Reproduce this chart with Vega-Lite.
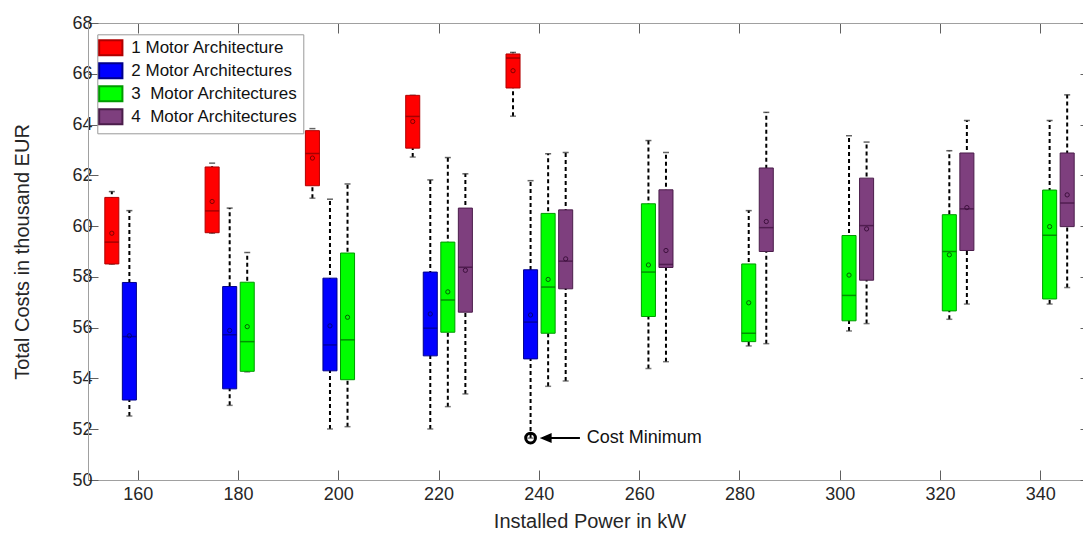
{
  "$schema": "https://vega.github.io/schema/vega-lite/v6.json",
  "width": 995,
  "height": 457,
  "autosize": {"type": "none"},
  "padding": {"left": 88, "top": 23, "right": 0, "bottom": 54},
  "background": "white",
  "config": {
    "view": {"stroke": null},
    "font": "Liberation Sans",
    "axis": {"labelFont": "Liberation Sans", "titleFont": "Liberation Sans", "titleFontWeight": "normal", "labelColor": "#262626", "titleColor": "#262626", "domainColor": "#a0a0a0", "tickColor": "#606060", "grid": false}
  },
  "datasets": {
    "boxes": [
      {"power": 160, "arch": "1 Motor Architecture", "lo": 58.5, "q1": 58.51, "med": 59.37, "q3": 61.13, "hi": 61.36, "mean": 59.72},
      {"power": 160, "arch": "2 Motor Architectures", "lo": 52.52, "q1": 53.15, "med": 55.65, "q3": 57.78, "hi": 60.61, "mean": 55.68},
      {"power": 180, "arch": "1 Motor Architecture", "lo": 59.72, "q1": 59.74, "med": 60.6, "q3": 62.33, "hi": 62.48, "mean": 60.97},
      {"power": 180, "arch": "2 Motor Architectures", "lo": 52.94, "q1": 53.59, "med": 55.72, "q3": 57.62, "hi": 60.71, "mean": 55.89},
      {"power": 180, "arch": "3\u00a0 Motor Architectures", "lo": 54.26, "q1": 54.28, "med": 55.45, "q3": 57.79, "hi": 58.96, "mean": 56.04},
      {"power": 200, "arch": "1 Motor Architecture", "lo": 61.1, "q1": 61.59, "med": 62.86, "q3": 63.76, "hi": 63.84, "mean": 62.68},
      {"power": 200, "arch": "2 Motor Architectures", "lo": 52.01, "q1": 54.3, "med": 55.32, "q3": 57.95, "hi": 61.06, "mean": 56.07},
      {"power": 200, "arch": "3\u00a0 Motor Architectures", "lo": 52.1, "q1": 53.95, "med": 55.52, "q3": 58.94, "hi": 61.66, "mean": 56.41},
      {"power": 220, "arch": "1 Motor Architecture", "lo": 62.72, "q1": 63.07, "med": 64.32, "q3": 65.15, "hi": 65.15, "mean": 64.12},
      {"power": 220, "arch": "2 Motor Architectures", "lo": 52.01, "q1": 54.89, "med": 55.98, "q3": 58.19, "hi": 61.82, "mean": 56.54},
      {"power": 220, "arch": "3\u00a0 Motor Architectures", "lo": 52.89, "q1": 55.82, "med": 57.09, "q3": 59.37, "hi": 62.7, "mean": 57.41},
      {"power": 220, "arch": "4\u00a0 Motor Architectures", "lo": 53.39, "q1": 56.61, "med": 58.38, "q3": 60.71, "hi": 62.06, "mean": 58.26},
      {"power": 240, "arch": "1 Motor Architecture", "lo": 64.33, "q1": 65.44, "med": 66.62, "q3": 66.78, "hi": 66.84, "mean": 66.12},
      {"power": 240, "arch": "2 Motor Architectures", "lo": 51.65, "q1": 54.77, "med": 56.22, "q3": 58.28, "hi": 61.79, "mean": 56.5},
      {"power": 240, "arch": "3\u00a0 Motor Architectures", "lo": 53.69, "q1": 55.78, "med": 57.6, "q3": 60.5, "hi": 62.85, "mean": 57.9},
      {"power": 240, "arch": "4\u00a0 Motor Architectures", "lo": 53.9, "q1": 57.53, "med": 58.62, "q3": 60.64, "hi": 62.9, "mean": 58.71},
      {"power": 260, "arch": "3\u00a0 Motor Architectures", "lo": 54.39, "q1": 56.44, "med": 58.19, "q3": 60.88, "hi": 63.37, "mean": 58.47},
      {"power": 260, "arch": "4\u00a0 Motor Architectures", "lo": 54.66, "q1": 58.37, "med": 58.49, "q3": 61.43, "hi": 62.9, "mean": 59.04},
      {"power": 280, "arch": "3\u00a0 Motor Architectures", "lo": 55.28, "q1": 55.45, "med": 55.78, "q3": 58.51, "hi": 60.61, "mean": 56.98},
      {"power": 280, "arch": "4\u00a0 Motor Architectures", "lo": 55.37, "q1": 59.0, "med": 59.94, "q3": 62.29, "hi": 64.48, "mean": 60.18},
      {"power": 300, "arch": "3\u00a0 Motor Architectures", "lo": 55.87, "q1": 56.27, "med": 57.27, "q3": 59.63, "hi": 63.56, "mean": 58.07},
      {"power": 300, "arch": "4\u00a0 Motor Architectures", "lo": 56.16, "q1": 57.87, "med": 60.02, "q3": 61.89, "hi": 63.31, "mean": 59.89},
      {"power": 320, "arch": "3\u00a0 Motor Architectures", "lo": 56.33, "q1": 56.66, "med": 59.0, "q3": 60.45, "hi": 62.97, "mean": 58.87},
      {"power": 320, "arch": "4\u00a0 Motor Architectures", "lo": 56.93, "q1": 59.04, "med": 60.68, "q3": 62.88, "hi": 64.16, "mean": 60.73},
      {"power": 340, "arch": "3\u00a0 Motor Architectures", "lo": 56.93, "q1": 57.13, "med": 59.64, "q3": 61.42, "hi": 64.16, "mean": 59.98},
      {"power": 340, "arch": "4\u00a0 Motor Architectures", "lo": 57.58, "q1": 59.98, "med": 60.91, "q3": 62.88, "hi": 65.17, "mean": 61.23}
    ],
    "note": [
      {"kind": "circle", "power": 240, "arch": "2 Motor Architectures", "value": 51.65, "label": ""},
      {"kind": "arrow", "power": 240, "arch": "3\u00a0 Motor Architectures", "value": 51.65, "label": ""},
      {"kind": "text", "power": 240, "arch": "4\u00a0 Motor Architectures", "value": 51.65, "label": "Cost Minimum"}
    ]
  },
  "resolve": {"axis": {"x": "independent", "y": "independent"}},
  "layer": [
    {
      "data": {"name": "boxes"},
      "mark": {"type": "rule", "strokeDash": [4, 3], "strokeWidth": 2, "color": "black"},
      "encoding": {
        "x": {"field": "power", "type": "ordinal",
          "scale": {"range": [0, 1003], "paddingInner": 0.3, "paddingOuter": 0.15},
          "axis": {"orient": "bottom", "title": "Installed Power in kW", "titleFontSize": 20, "titlePadding": 8, "labelFontSize": 18, "labelAngle": 0, "tickSize": -10, "labelPadding": 15}},
        "xOffset": {"field": "arch", "type": "nominal", "scale": {"paddingInner": 0.2, "paddingOuter": 0.1}},
        "y": {"field": "lo", "type": "quantitative",
          "scale": {"domain": [50, 68], "nice": false, "zero": false},
          "axis": {"orient": "left", "title": "Total Costs in thousand EUR", "titleFontSize": 20, "titlePadding": 39, "labelFontSize": 18, "values": [50, 52, 54, 56, 58, 60, 62, 64, 66, 68], "tickSize": -10, "labelPadding": 6}},
        "y2": {"field": "hi"}
      }
    },
    {
      "data": {"name": "boxes"},
      "mark": {"type": "tick", "size": 6, "thickness": 1.5, "color": "#222222"},
      "encoding": {
        "x": {"field": "power", "type": "ordinal", "axis": null},
        "xOffset": {"field": "arch", "type": "nominal"},
        "y": {"field": "hi", "type": "quantitative", "axis": null}
      }
    },
    {
      "data": {"name": "boxes"},
      "mark": {"type": "tick", "size": 6, "thickness": 1.5, "color": "#444444"},
      "encoding": {
        "x": {"field": "power", "type": "ordinal", "axis": null},
        "xOffset": {"field": "arch", "type": "nominal"},
        "y": {"field": "lo", "type": "quantitative", "axis": null}
      }
    },
    {
      "data": {"name": "boxes"},
      "mark": {"type": "bar", "strokeWidth": 1},
      "encoding": {
        "x": {"field": "power", "type": "ordinal",
          "axis": {"orient": "top", "labels": false, "title": null, "tickSize": -10}},
        "xOffset": {"field": "arch", "type": "nominal"},
        "y": {"field": "q1", "type": "quantitative",
          "axis": {"orient": "right", "labels": false, "title": null, "domain": false, "tickSize": -3, "values": [50, 52, 54, 56, 58, 60, 62, 64, 66, 68]}},
        "y2": {"field": "q3"},
        "fill": {"field": "arch", "type": "nominal",
          "scale": {"range": ["#ff0000", "#0000ff", "#00ff00", "#7e3f7e"]},
          "legend": {"title": null, "orient": "none", "legendX": 9.3, "legendY": 11.3,
            "symbolType": "M-1.55,-1H1.55V1H-1.55Z", "symbolSize": 225, "symbolStrokeColor": "black", "symbolStrokeWidth": 2,
            "labelFontSize": 17, "labelFont": "Liberation Sans", "labelColor": "#111111", "labelLimit": 300,
            "padding": 5, "rowPadding": 0, "labelOffset": 12, "strokeColor": "#999999", "fillColor": "white",
            "symbolOpacity": 1,
            "encode": {"symbols": {"update": {"stroke": {"value": "black"}, "strokeWidth": {"value": 2}}}}}},
        "stroke": {"field": "arch", "type": "nominal",
          "scale": {"range": ["#b00000", "#00008b", "#009a00", "#4a1d4a"]}, "legend": null}
      }
    },
    {
      "data": {"name": "boxes"},
      "mark": {"type": "tick", "size": 14, "thickness": 1.5},
      "encoding": {
        "x": {"field": "power", "type": "ordinal", "axis": null},
        "xOffset": {"field": "arch", "type": "nominal"},
        "y": {"field": "med", "type": "quantitative", "axis": null},
        "color": {"field": "arch", "type": "nominal",
          "scale": {"range": ["#800000", "#000080", "#006400", "#3d0f3d"]}, "legend": null}
      }
    },
    {
      "data": {"name": "boxes"},
      "mark": {"type": "point", "size": 18, "strokeWidth": 1, "filled": false, "opacity": 1},
      "encoding": {
        "x": {"field": "power", "type": "ordinal", "axis": null},
        "xOffset": {"field": "arch", "type": "nominal"},
        "y": {"field": "mean", "type": "quantitative", "axis": null},
        "color": {"field": "arch", "type": "nominal", "legend": null}
      }
    },
    {
      "data": {"name": "note"},
      "transform": [{"filter": "datum.kind === 'circle'"}],
      "mark": {"type": "point", "size": 95, "strokeWidth": 3, "filled": false, "color": "black", "opacity": 1},
      "encoding": {
        "x": {"field": "power", "type": "ordinal", "axis": null},
        "xOffset": {"field": "arch", "type": "nominal"},
        "y": {"field": "value", "type": "quantitative", "axis": null}
      }
    },
    {
      "data": {"name": "note"},
      "transform": [{"filter": "datum.kind === 'arrow'"}],
      "mark": {"type": "point", "shape": "M-0.59,0L0.25,-0.35L0.25,0.35Z M0.2,0L3.18,0", "size": 400, "strokeWidth": 2, "filled": true, "fill": "black", "stroke": "black", "opacity": 1},
      "encoding": {
        "x": {"field": "power", "type": "ordinal", "axis": null},
        "xOffset": {"field": "arch", "type": "nominal"},
        "y": {"field": "value", "type": "quantitative", "axis": null}
      }
    },
    {
      "data": {"name": "note"},
      "transform": [{"filter": "datum.kind === 'text'"}],
      "mark": {"type": "text", "align": "left", "baseline": "middle", "dx": 21, "fontSize": 18, "font": "Liberation Sans", "color": "#111111"},
      "encoding": {
        "x": {"field": "power", "type": "ordinal", "axis": null},
        "xOffset": {"field": "arch", "type": "nominal"},
        "y": {"field": "value", "type": "quantitative", "axis": null},
        "text": {"field": "label"}
      }
    }
  ]
}
